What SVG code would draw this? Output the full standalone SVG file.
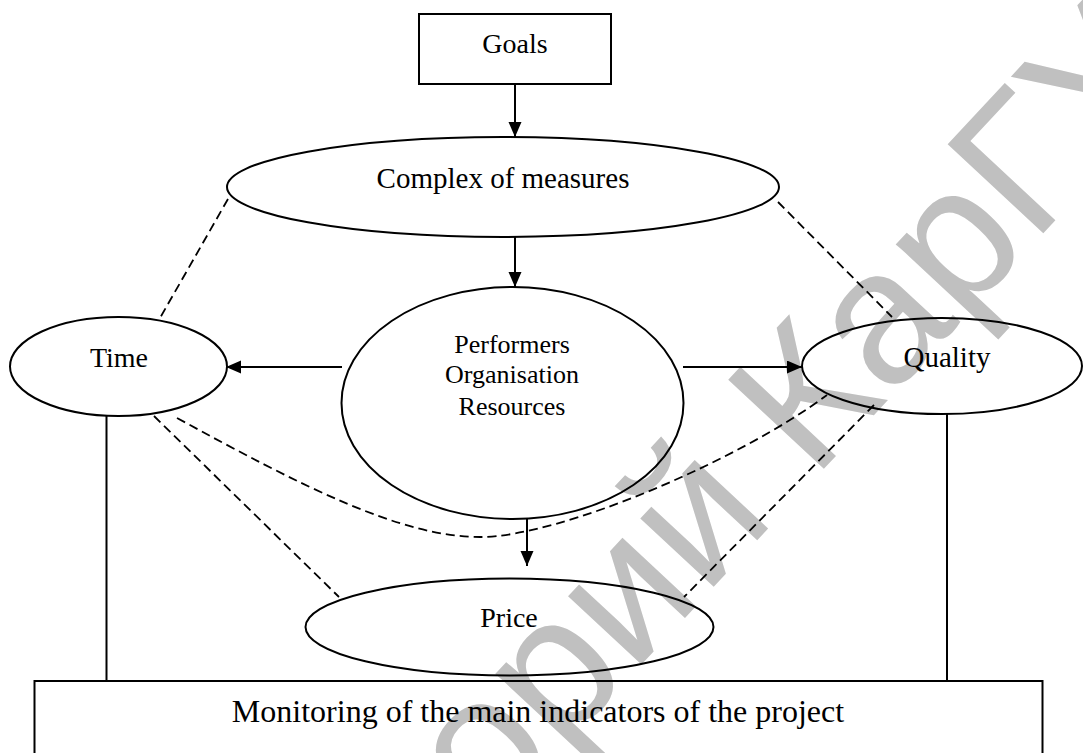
<svg xmlns="http://www.w3.org/2000/svg" width="1083" height="753" viewBox="0 0 1083 753">
  <style>
    .shape { fill: none; stroke: #000; stroke-width: 2; }
    .solid { fill: none; stroke: #000; stroke-width: 2; }
    .dash { fill: none; stroke: #000; stroke-width: 1.8; stroke-dasharray: 9 5; }
    .lbl { font-family: "Liberation Serif", "Times New Roman", serif; fill: #000; text-anchor: middle; }
    .wm { font-family: "Liberation Sans", Arial, sans-serif; fill: #c0c0c0; font-size: 190px; }
  </style>
  <defs>
    <marker id="arr" markerUnits="userSpaceOnUse" markerWidth="16" markerHeight="14" refX="15" refY="6.5" orient="auto">
      <path d="M0,0 L15,6.5 L0,13 Z" fill="#000"/>
    </marker>
  </defs>
  <rect width="1083" height="753" fill="#fff"/>
  <text class="wm" transform="translate(5,1347) rotate(-47)">Репозиторий КарГУ</text>

  <g id="connectors">
    <line class="solid" x1="515" y1="85" x2="515" y2="137" marker-end="url(#arr)"/>
    <line class="solid" x1="515" y1="237" x2="515" y2="287" marker-end="url(#arr)"/>
    <line class="solid" x1="342" y1="367" x2="226" y2="367" marker-end="url(#arr)"/>
    <line class="solid" x1="683" y1="367" x2="802" y2="367" marker-end="url(#arr)"/>
    <line class="solid" x1="527" y1="519" x2="527" y2="566" marker-end="url(#arr)"/>
    <line class="solid" x1="106.5" y1="416" x2="106.5" y2="681"/>
    <line class="solid" x1="947" y1="414" x2="947" y2="681"/>
    <line class="dash" x1="228" y1="199" x2="160" y2="318"/>
    <line class="dash" x1="778" y1="202" x2="892" y2="317"/>
    <line class="dash" x1="154" y1="416" x2="339" y2="597"/>
    <line class="dash" x1="874" y1="405" x2="684" y2="597"/>
    <path class="dash" d="M177,418 C300,485 400,537 480,537 C560,537 740,460 827,395"/>
  </g>

  <g id="goals">
    <rect class="shape" x="419" y="14" width="192" height="70"/>
    <text class="lbl" x="515" y="53" font-size="28">Goals</text>
  </g>
  <g id="complex">
    <ellipse class="shape" cx="503" cy="187" rx="276" ry="50"/>
    <text class="lbl" x="503" y="188" font-size="29">Complex of measures</text>
  </g>
  <g id="performers">
    <ellipse class="shape" cx="512.5" cy="403" rx="171" ry="116"/>
    <text class="lbl" x="512" y="353" font-size="26">Performers</text>
    <text class="lbl" x="512" y="383" font-size="26">Organisation</text>
    <text class="lbl" x="512" y="415" font-size="26">Resources</text>
  </g>
  <g id="time">
    <ellipse class="shape" cx="118.5" cy="366.5" rx="108.5" ry="49.5"/>
    <text class="lbl" x="119" y="367" font-size="28">Time</text>
  </g>
  <g id="quality">
    <ellipse class="shape" cx="942" cy="366" rx="140" ry="48"/>
    <text class="lbl" x="947" y="367" font-size="29">Quality</text>
  </g>
  <g id="price">
    <ellipse class="shape" cx="509.5" cy="627" rx="204" ry="48.5"/>
    <text class="lbl" x="509" y="627" font-size="28">Price</text>
  </g>
  <g id="monitoring">
    <rect class="shape" x="34.5" y="681" width="1008" height="100"/>
    <text class="lbl" x="538" y="722" font-size="32">Monitoring of the main indicators of the project</text>
  </g>
</svg>
